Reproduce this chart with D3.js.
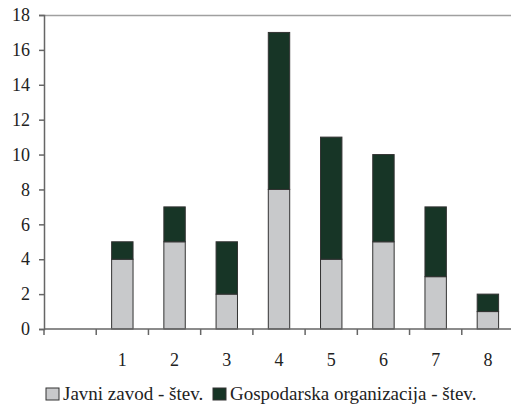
<!DOCTYPE html>
<html>
<head>
<meta charset="utf-8">
<script src="https://cdn.jsdelivr.net/npm/d3@7"></script>
<style>
  body { margin: 0; background: #fff; }
  text { font-family: "Liberation Serif", "DejaVu Serif", serif; }
</style>
</head>
<body>
<svg id="chart" width="511" height="407"></svg>
<script>
// categories (first slot is empty in the original)
const categories = ['', '1', '2', '3', '4', '5', '6', '7', '8'];
const javniZavod = [null, 4, 5, 2, 8, 4, 5, 3, 1];
const gospodarska = [null, 1, 2, 3, 9, 7, 5, 4, 1];
const seriesNames = ['Javni zavod - štev.', 'Gospodarska organizacija - štev.'];
const yTicks = [0, 2, 4, 6, 8, 10, 12, 14, 16, 18];

const colors = ['#c8c9cb', '#173526'];
const font = '"Liberation Serif", "DejaVu Serif", serif';

const svg = d3.select('#chart');
const margin = { top: 15, left: 44 };
const plotW = 470;
const plotH = 314;

const g = svg.append('g')
    .attr('transform', `translate(${margin.left},${margin.top})`);

const x = d3.scaleBand()
    .domain(categories.map((c, i) => i))
    .range([0, plotW])
    .paddingInner(0.59)
    .paddingOuter(0.295);

const xTicks = d3.scaleBand()
    .domain(categories.map((c, i) => i))
    .range([0, plotW]);

const y = d3.scaleLinear()
    .domain([0, 18])
    .range([plotH, 0]);

// top border line
g.append('line')
    .attr('x1', 0).attr('x2', plotW)
    .attr('y1', 0.5).attr('y2', 0.5)
    .attr('stroke', '#a0a0a0')
    .attr('stroke-width', 1.5);

// stacked data
const rows = categories.map((c, i) => ({ i, a: javniZavod[i], b: gospodarska[i] }))
    .filter(d => d.a !== null);
const stack = d3.stack().keys(['a', 'b'])(rows);

g.selectAll('g.layer')
  .data(stack)
  .join('g')
    .attr('class', 'layer')
    .attr('fill', (d, k) => colors[k])
  .selectAll('rect')
  .data(d => d)
  .join('rect')
    .attr('x', d => x(d.data.i))
    .attr('width', x.bandwidth())
    .attr('y', d => y(d[1]))
    .attr('height', d => y(d[0]) - y(d[1]))
    .attr('stroke', '#333')
    .attr('stroke-width', 1);

// y axis
const yAxis = g.append('g')
    .call(d3.axisLeft(y).tickValues(yTicks).tickSize(5).tickPadding(9));
yAxis.attr('font-family', font);
yAxis.selectAll('text')
    .attr('font-size', 18)
    .attr('fill', '#222');
yAxis.selectAll('line, path').attr('stroke', '#666').attr('stroke-width', 1.5);

// x axis
const xAxis = g.append('g')
    .attr('transform', `translate(0,${plotH})`);
xAxis.append('line')
    .attr('x1', 0).attr('x2', plotW)
    .attr('stroke', '#666').attr('stroke-width', 1.5);
xAxis.selectAll('line.tick')
  .data(categories.map((c, i) => i))
  .join('line')
    .attr('class', 'tick')
    .attr('x1', d => xTicks(d)).attr('x2', d => xTicks(d))
    .attr('y1', 0).attr('y2', 6)
    .attr('stroke', '#666').attr('stroke-width', 1.5);
xAxis.selectAll('text')
  .data(categories.map((c, i) => i))
  .join('text')
    .attr('x', d => xTicks(d) + xTicks.bandwidth() / 2)
    .attr('y', 37)
    .attr('text-anchor', 'middle')
    .attr('font-size', 18)
    .attr('fill', '#222')
    .text(d => categories[d]);

// legend
const legend = svg.append('g').attr('transform', 'translate(46,388)');
const legendX = [0, 167];
seriesNames.forEach((name, k) => {
  const item = legend.append('g').attr('transform', `translate(${legendX[k]},0)`);
  item.append('rect')
      .attr('width', 13).attr('height', 12)
      .attr('fill', colors[k])
      .attr('stroke', '#333').attr('stroke-width', 1);
  item.append('text')
      .attr('x', 17).attr('y', 12)
      .attr('font-size', 19)
      .attr('fill', '#222')
      .text(name);
});
</script>
</body>
</html>
